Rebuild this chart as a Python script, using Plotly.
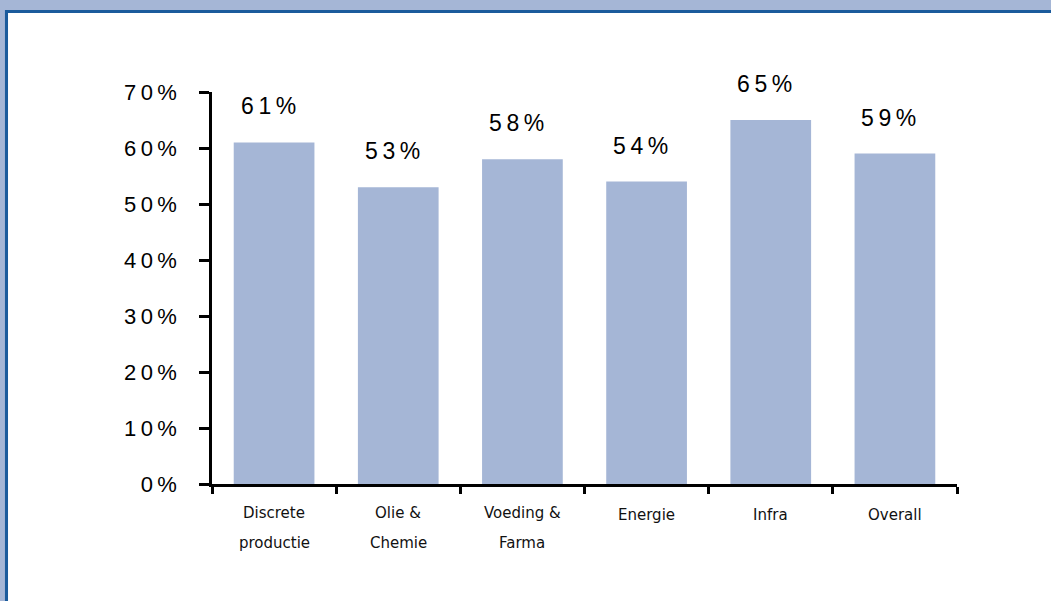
import plotly.graph_objects as go

# Share per sector
categories = ["Discrete productie", "Olie & Chemie", "Voeding & Farma", "Energie", "Infra", "Overall"]
label_lines = [["Discrete", "productie"], ["Olie &", "Chemie"], ["Voeding &", "Farma"],
               ["Energie"], ["Infra"], ["Overall"]]
values = [61, 53, 58, 54, 65, 59]
y_ticks = [0, 10, 20, 30, 40, 50, 60, 70]

BAR = "#A5B6D6"
FRAME_LIGHT = "#A5B6D6"
FRAME_DARK = "#1B5B9C"
THIN = "\u2009"


def spaced(v):
    # percent text with the wide letter spacing used on this slide
    return THIN.join(list(f"{v}%"))


fig = go.Figure()
fig.add_trace(go.Bar(
    x=categories, y=values, marker=dict(color=BAR, line=dict(width=0)),
    hoverinfo="skip",
))

# value labels above the bars
for c, v in zip(categories, values):
    fig.add_annotation(x=c, y=v, text=spaced(v), showarrow=False,
                       xref="x", yref="y", yanchor="bottom", yshift=21, xshift=-6,
                       font=dict(family="Liberation Sans, Arial", size=23, color="black"))

# category labels below the axis, with generous line spacing
for c, lines in zip(categories, label_lines):
    if len(lines) == 1:
        shifts = [-31]
    else:
        shifts = [-29, -59]
    for line, s in zip(lines, shifts):
        fig.add_annotation(x=c, y=0, text=line, showarrow=False,
                           xref="x", yref="paper", yanchor="middle", yshift=s,
                           font=dict(family="DejaVu Sans, Verdana", size=15, color="#111111"))

# slide frame: light band, dark blue rule, white panel
fig.add_shape(type="rect", xref="paper", yref="paper", layer="below",
              x0=-0.2779, x1=1.3, y0=-0.4, y1=1.209,
              fillcolor=FRAME_DARK, line=dict(width=0))
fig.add_shape(type="rect", xref="paper", yref="paper", layer="below",
              x0=-0.2738, x1=1.3, y0=-0.4, y1=1.2015,
              fillcolor="white", line=dict(width=0))

fig.update_layout(
    width=1051, height=601,
    margin=dict(l=212, r=94, t=92, b=117),
    paper_bgcolor=FRAME_LIGHT, plot_bgcolor="white",
    bargap=0.35, showlegend=False,
    xaxis=dict(
        type="category", range=[-0.5, 5.5], showgrid=False, zeroline=False,
        showline=True, linecolor="black", linewidth=2.5,
        ticks="outside", tickson="boundaries", ticklen=7, tickwidth=2.5, tickcolor="black",
        showticklabels=False, fixedrange=True,
    ),
    yaxis=dict(
        range=[0, 70], showgrid=False, zeroline=False,
        showline=True, linecolor="black", linewidth=2.5,
        ticks="outside", ticklen=10, tickwidth=2.5, tickcolor="black",
        tickvals=y_ticks, ticktext=[spaced(t) for t in y_ticks],
        ticklabelstandoff=18,
        tickfont=dict(family="Liberation Sans, Arial", size=22, color="black"),
        fixedrange=True,
    ),
)

fig.write_html("out.html")
